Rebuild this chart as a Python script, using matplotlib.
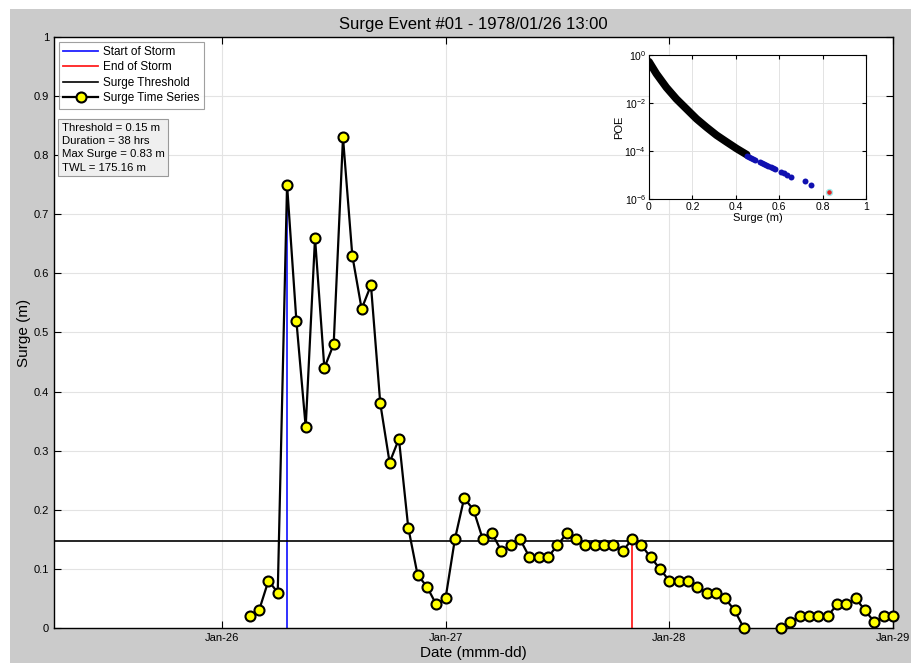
import numpy as np
import pandas as pd
import matplotlib
matplotlib.use("Agg")
import matplotlib.pyplot as plt
import matplotlib.dates as mdates
from matplotlib.patches import Rectangle
from matplotlib.ticker import FormatStrFormatter

plt.rcParams['font.family'] = ['Liberation Sans', 'DejaVu Sans']

# hourly surge, Jan-26 03:00 .. Jan-29 00:00 (nan = no value)
surge = [0.02, 0.03, 0.08, 0.06, 0.75, 0.52, 0.34, 0.66, 0.44, 0.48, 0.83, 0.63,
         0.54, 0.58, 0.38, 0.28, 0.32, 0.17, 0.09, 0.07, 0.04,
         0.05, 0.15, 0.22, 0.20, 0.15, 0.16, 0.13, 0.14, 0.15, 0.12, 0.12, 0.12,
         0.14, 0.16, 0.15, 0.14, 0.14, 0.14, 0.14, 0.13, 0.15, 0.14, 0.12, 0.10,
         0.08, 0.08, 0.08, 0.07, 0.06, 0.06, 0.05, 0.03, 0.00, np.nan, np.nan, np.nan,
         0.00, 0.01, 0.02, 0.02, 0.02, 0.02, 0.04, 0.04, 0.05, 0.03, 0.01, 0.02,
         0.02]
times = pd.date_range('1978-01-26 03:00', periods=len(surge), freq='h')

threshold = 0.148
storm_start = pd.Timestamp('1978-01-26 07:00')
storm_end = pd.Timestamp('1978-01-27 20:00')
start_val = 0.75
end_val = 0.15
info = ["Threshold = 0.15 m", "Duration = 38 hrs", "Max Surge = 0.83 m", "TWL = 175.16 m"]

# probability of exceedance (inset)
poe_x = [0.0, 0.034, 0.08, 0.126, 0.173, 0.219, 0.265, 0.311, 0.357, 0.404, 0.45]
poe_log = [-0.28, -0.78, -1.35, -1.83, -2.25, -2.66, -3.01, -3.34, -3.62, -3.9, -4.15]
tail_x = [0.45, 0.46, 0.47, 0.48, 0.49, 0.51, 0.52, 0.53, 0.54, 0.55, 0.56, 0.57,
          0.58, 0.61, 0.62, 0.635, 0.655, 0.72, 0.748]
tail_log = [-4.2, -4.25, -4.3, -4.33, -4.38, -4.46, -4.5, -4.53, -4.57, -4.62, -4.66, -4.71,
            -4.76, -4.88, -4.93, -5.0, -5.1, -5.25, -5.4]
max_x = 0.83
max_log = -5.7

fig = plt.figure(figsize=(9.11, 6.63), dpi=100, facecolor='#cbcbcb')
fig.patches.append(Rectangle((0, 1 - 9 / 663), 1, 9 / 663, transform=fig.transFigure,
                             facecolor='white', edgecolor='none', zorder=-1))
fig.patches.append(Rectangle((0, 0), 10 / 911, 1, transform=fig.transFigure,
                             facecolor='white', edgecolor='none', zorder=-1))

ax = fig.add_axes([54 / 911, 35 / 663, 839 / 911, 591 / 663])
ax.grid(True, color='#e3e3e3', lw=0.8)
ax.set_axisbelow(True)

h1, = ax.plot([storm_start, storm_start], [0, start_val], color='#2020ff', lw=1.3, zorder=2)
h2, = ax.plot([storm_end, storm_end], [0, end_val], color='#ff2020', lw=1.3, zorder=2)
h3 = ax.axhline(threshold, color='black', lw=1.2, zorder=2)
h4, = ax.plot(times, surge, '-o', color='black', lw=1.6, mfc='#ffff00', mec='black',
              mew=1.5, ms=7.2, zorder=3, clip_on=False)

ax.set_xlim(pd.Timestamp('1978-01-25 06:00'), pd.Timestamp('1978-01-29 00:00'))
ax.set_ylim(0, 1)
ax.xaxis.set_major_locator(mdates.DayLocator())
ax.xaxis.set_major_formatter(mdates.DateFormatter('%b-%d'))
ax.set_yticks(np.arange(0, 1.01, 0.1))
ax.yaxis.set_major_formatter(FormatStrFormatter('%g'))
ax.tick_params(direction='in', top=True, right=True, labelsize=8, length=5, width=0.8)
for s in ax.spines.values():
    s.set_linewidth(1.0)

ax.set_title('Surge Event #01 - 1978/01/26 13:00', fontsize=12, pad=6)
ax.set_xlabel('Date (mmm-dd)', fontsize=11, labelpad=2)
ax.set_ylabel('Surge (m)', fontsize=11, labelpad=2)

leg = ax.legend([h1, h2, h3, h4],
                ['Start of Storm', 'End of Storm', 'Surge Threshold', 'Surge Time Series'],
                loc='upper left', fontsize=8.5, frameon=True, fancybox=False,
                handlelength=3.0, handletextpad=0.4, labelspacing=0.3,
                borderpad=0.35, borderaxespad=0.4, edgecolor='#888888')
leg.get_frame().set_linewidth(0.8)

ax.text(0.009, 0.855, '\n'.join(info), transform=ax.transAxes, fontsize=8.2,
        va='top', ha='left', linespacing=1.42,
        bbox=dict(boxstyle='square,pad=0.3', facecolor='#efefef', edgecolor='#999999', lw=0.8))

# inset: POE
ins = fig.add_axes([649 / 911, 1 - 199 / 663, 217 / 911, 144 / 663])
ins.semilogy(poe_x, 10 ** np.array(poe_log), color='black', lw=5.5, solid_capstyle='round',
             zorder=3)
ins.semilogy(tail_x, 10 ** np.array(tail_log), 'o', color='#1010b0', ms=4.3, mec='none',
             zorder=3)
ins.semilogy([max_x], [10 ** max_log], 'o', color='#e02020', ms=4.3, mec='#a0e8e8',
             mew=1, zorder=4)
ins.set_xlim(0, 1)
ins.set_ylim(1e-6, 1)
ins.set_yticks([1e-6, 1e-4, 1e-2, 1])
ins.yaxis.set_minor_locator(matplotlib.ticker.NullLocator())
ins.set_xticks(np.arange(0, 1.01, 0.2))
ins.xaxis.set_major_formatter(FormatStrFormatter('%g'))
ins.grid(True, color='#e3e3e3', lw=0.7)
ins.set_axisbelow(True)
ins.tick_params(direction='in', top=True, right=True, labelsize=7.5, length=3, pad=2)
ins.set_xlabel('Surge (m)', fontsize=8, labelpad=1)
ins.set_ylabel('POE', fontsize=8, labelpad=0)

fig.savefig('out.png', dpi=100, facecolor=fig.get_facecolor())
